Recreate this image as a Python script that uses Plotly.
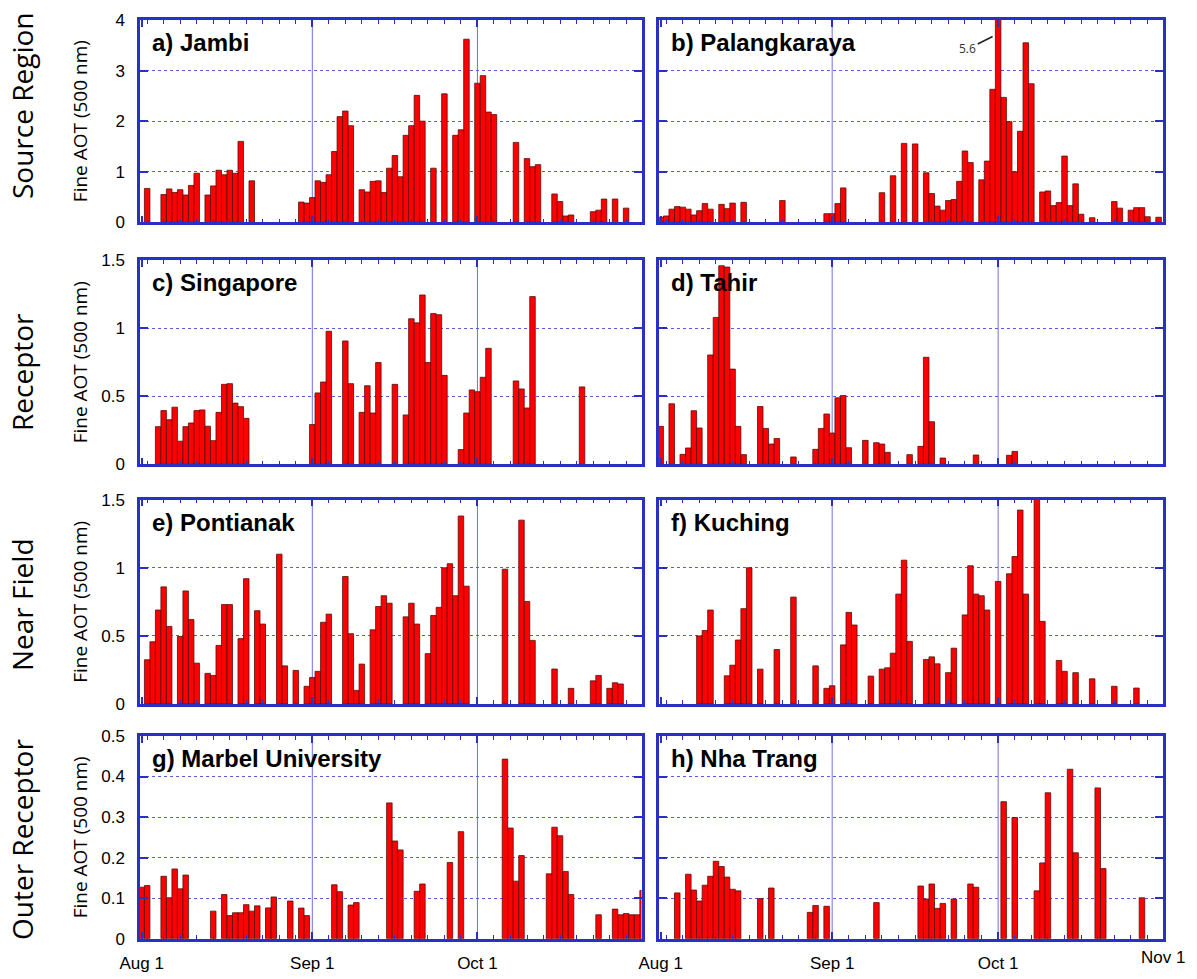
import plotly.graph_objects as go

# ---------------------------------------------------------------------------
# Daily fine-mode AOT (500 nm), Aug-Oct. Days are counted from Aug 1
# (0 = Aug 1, 31 = Sep 1, 61 = Oct 1).
# ---------------------------------------------------------------------------
jambi_days = [1, 4, 5, 6, 7, 8, 9, 10, 12, 13, 14, 15, 16, 17, 18, 20,
              29, 30, 31, 32, 33, 34, 35, 36, 37, 38, 40, 41, 42, 43, 44, 45,
              46, 47, 48, 49, 50, 51, 53, 55, 57, 58, 59, 61, 62, 63, 64, 68,
              70, 71, 72, 75, 76, 77, 78, 82, 83, 84, 86, 88]
jambi_aot = [0.67, 0.55, 0.66, 0.59, 0.645, 0.54, 0.73, 0.97, 0.54, 0.72, 1.03, 0.94, 1.03, 0.97, 1.6, 0.82,
             0.4, 0.38, 0.49, 0.82, 0.79, 0.94, 1.4, 2.09, 2.2, 1.91, 0.645, 0.6, 0.81, 0.82, 0.59, 1.07,
             1.32, 0.9, 1.72, 1.91, 2.51, 2.0, 1.07, 2.54, 1.72, 1.83, 3.62, 2.75, 2.9, 2.18, 2.13, 1.58,
             1.26, 1.1, 1.14, 0.56, 0.41, 0.125, 0.145, 0.21, 0.24, 0.46, 0.46, 0.28]

palangkaraya_days = [0, 1, 2, 3, 4, 5, 6, 7, 8, 9, 11, 12, 13, 15, 22, 30,
                     31, 32, 33, 40, 42, 44, 46, 48, 49, 50, 51, 52, 53, 54, 55, 56,
                     58, 59, 60, 61, 62, 63, 64, 65, 66, 67, 69, 70, 71, 72, 73, 74,
                     75, 76, 78, 82, 83, 85, 86, 87, 88, 90]
palangkaraya_aot = [0.1, 0.125, 0.26, 0.31, 0.3, 0.26, 0.145, 0.23, 0.37, 0.26, 0.355, 0.27, 0.38, 0.395, 0.43, 0.17,
                    0.17, 0.37, 0.68, 0.585, 0.92, 1.56, 1.55, 0.98, 0.57, 0.32, 0.24, 0.43, 0.45, 0.81, 1.41, 1.18,
                    0.84, 1.21, 2.63, 5.6, 2.47, 1.99, 1.0, 1.8, 3.55, 2.74, 0.6, 0.62, 0.33, 0.39, 1.31, 0.33,
                    0.76, 0.16, 0.09, 0.41, 0.28, 0.24, 0.29, 0.29, 0.11, 0.1]

singapore_days = [3, 4, 5, 6, 7, 8, 9, 10, 11, 12, 13, 14, 15, 16, 17, 18,
                  19, 31, 32, 33, 34, 37, 38, 40, 41, 42, 43, 46, 48, 49, 50, 51,
                  52, 53, 54, 55, 58, 59, 60, 61, 62, 63, 68, 69, 70, 71, 80]
singapore_aot = [0.277, 0.395, 0.328, 0.42, 0.17, 0.277, 0.304, 0.395, 0.40, 0.28, 0.174, 0.382, 0.588, 0.593, 0.45, 0.424,
                 0.338, 0.292, 0.525, 0.605, 0.978, 0.907, 0.593, 0.382, 0.578, 0.377, 0.748, 0.588, 0.363, 1.07, 1.04, 1.245,
                 0.748, 1.108, 1.10, 0.654, 0.108, 0.377, 0.547, 0.534, 0.64, 0.853, 0.613, 0.554, 0.414, 1.233, 0.569]

tahir_days = [0, 2, 4, 5, 6, 7, 9, 10, 11, 12, 13, 14, 15, 18, 19, 20,
              21, 24, 28, 29, 30, 31, 32, 33, 34, 37, 39, 40, 41, 45, 47, 48,
              49, 51, 57, 63, 64]
tahir_aot = [0.279, 0.445, 0.073, 0.12, 0.394, 0.267, 0.804, 1.08, 1.46, 1.45, 0.70, 0.279, 0.071, 0.425, 0.264, 0.149,
             0.19, 0.054, 0.11, 0.264, 0.37, 0.23, 0.489, 0.506, 0.122, 0.176, 0.159, 0.149, 0.088, 0.071, 0.132, 0.787,
             0.313, 0.046, 0.068, 0.066, 0.095]

pontianak_days = [1, 2, 3, 4, 5, 7, 8, 9, 10, 12, 13, 14, 15, 16, 18, 19,
                  21, 22, 25, 26, 28, 30, 31, 32, 33, 34, 37, 38, 39, 40, 42, 43,
                  44, 45, 48, 49, 50, 52, 53, 54, 55, 56, 57, 58, 59, 66, 69, 70,
                  71, 75, 78, 82, 83, 85, 86, 87]
pontianak_aot = [0.325, 0.457, 0.69, 0.86, 0.57, 0.496, 0.83, 0.62, 0.30, 0.225, 0.21, 0.43, 0.73, 0.73, 0.48, 0.92,
                 0.685, 0.587, 1.10, 0.28, 0.247, 0.13, 0.195, 0.24, 0.60, 0.66, 0.936, 0.516, 0.10, 0.293, 0.545, 0.716,
                 0.795, 0.74, 0.64, 0.74, 0.587, 0.37, 0.65, 0.71, 1.00, 1.03, 0.795, 1.38, 0.865, 0.99, 1.35, 0.753,
                 0.467, 0.257, 0.115, 0.17, 0.21, 0.115, 0.156, 0.147]

kuching_days = [7, 8, 9, 12, 13, 14, 15, 16, 18, 21, 24, 28, 30, 31, 33, 34,
                35, 38, 40, 41, 42, 43, 44, 45, 48, 49, 50, 52, 53, 55, 56, 57,
                58, 59, 61, 63, 64, 65, 66, 68, 69, 72, 73, 75, 78, 82, 86]
kuching_aot = [0.50, 0.54, 0.69, 0.207, 0.285, 0.47, 0.70, 1.00, 0.256, 0.40, 0.785, 0.28, 0.115, 0.134, 0.434, 0.673,
               0.58, 0.205, 0.256, 0.266, 0.373, 0.807, 1.056, 0.46, 0.327, 0.346, 0.295, 0.23, 0.41, 0.654, 1.015, 0.807,
               0.795, 0.69, 0.90, 0.956, 1.083, 1.424, 0.807, 1.55, 0.607, 0.32, 0.24, 0.23, 0.185, 0.13, 0.117]

marbel_days = [0, 1, 4, 5, 6, 7, 8, 13, 15, 16, 17, 18, 19, 20, 21, 23,
               24, 27, 29, 30, 35, 36, 38, 39, 45, 46, 47, 50, 51, 56, 58, 66,
               67, 68, 69, 74, 75, 76, 77, 78, 83, 86, 87, 88, 89, 90, 91]
marbel_aot = [0.127, 0.131, 0.154, 0.101, 0.172, 0.123, 0.157, 0.068, 0.109, 0.057, 0.064, 0.064, 0.084, 0.068, 0.081, 0.076,
              0.103, 0.093, 0.0755, 0.057, 0.133, 0.116, 0.083, 0.089, 0.335, 0.241, 0.219, 0.117, 0.135, 0.188, 0.264, 0.443,
              0.273, 0.142, 0.205, 0.16, 0.275, 0.254, 0.166, 0.109, 0.059, 0.073, 0.059, 0.062, 0.059, 0.059, 0.119]

nhatrang_days = [3, 5, 6, 7, 8, 9, 10, 11, 12, 13, 14, 18, 20, 27, 28, 30,
                 39, 47, 48, 49, 50, 51, 53, 56, 57, 62, 64, 68, 69, 70, 74, 75,
                 79, 80, 87]
nhatrang_aot = [0.113, 0.159, 0.12, 0.093, 0.132, 0.154, 0.191, 0.178, 0.152, 0.122, 0.118, 0.099, 0.125, 0.065, 0.082, 0.080,
                0.089, 0.13, 0.098, 0.135, 0.075, 0.087, 0.098, 0.135, 0.127, 0.338, 0.299, 0.118, 0.187, 0.36, 0.418, 0.212,
                0.372, 0.173, 0.101]

panel_titles = ["a) Jambi", "b) Palangkaraya", "c) Singapore", "d) Tahir",
                "e) Pontianak", "f) Kuching", "g) Marbel University", "h) Nha Trang"]
row_titles = ["Source Region", "Receptor", "Near Field", "Outer Receptor"]
row_ymax = [4, 1.5, 1.5, 0.5]
row_dtick = [1, 0.5, 0.5, 0.1]

month_days = [0, 31, 61]
month_labels = ["Aug 1", "Sep 1", "Oct 1"]
end_label = "Nov 1"
y_title = "Fine AOT (500 nm)"

series = [(jambi_days, jambi_aot), (palangkaraya_days, palangkaraya_aot),
          (singapore_days, singapore_aot), (tahir_days, tahir_aot),
          (pontianak_days, pontianak_aot), (kuching_days, kuching_aot),
          (marbel_days, marbel_aot), (nhatrang_days, nhatrang_aot)]

# ---------------------------------------------------------------------------
# Styling / layout geometry
# ---------------------------------------------------------------------------
W, H = 1197, 979
FRAME = "#2a30c4"
MONTH_LINE = "#6f6fe6"
GRID = "#5a5ae0"
BAR_FILL = "#ff0000"
BAR_EDGE = "#5a0c0c"
TICK_FONT = dict(family="Liberation Sans, Arial", size=17, color="black")
X_RANGE = [-0.3, 90.8]

col_px = [(140, 641.5), (659, 1163)]
row_px = [(20, 222.3), (260.3, 464.3), (499.7, 704), (736, 938.7)]
row_label_y = [106, 372, 605, 840]


def xdom(c):
    a, b = col_px[c]
    return [a / W, b / W]


def ydom(r):
    top, bottom = row_px[r]
    return [1 - bottom / H, 1 - top / H]


fig = go.Figure()
layout = dict(
    width=W, height=H,
    margin=dict(l=0, r=0, t=0, b=0, autoexpand=False),
    paper_bgcolor="white", plot_bgcolor="white",
    showlegend=False,
    annotations=[], shapes=[],
)

for i, (days, vals) in enumerate(series):
    assert len(days) == len(vals)
    r, c = divmod(i, 2)
    n = "" if i == 0 else str(i + 1)
    xa, ya = "x" + n, "y" + n

    fig.add_trace(go.Bar(
        x=days, y=vals, width=1, xaxis=xa, yaxis=ya,
        marker=dict(color=BAR_FILL, line=dict(color=BAR_EDGE, width=0.8)),
        hovertemplate="day %{x}: %{y}<extra></extra>",
    ))

    bottom = r == 3
    layout["xaxis" + n] = dict(
        domain=xdom(c), range=X_RANGE, anchor=ya, automargin=False,
        showline=True, mirror="ticks", linecolor=FRAME, linewidth=2.5,
        tickmode="array", tickvals=month_days, ticktext=month_labels,
        ticks="inside", ticklen=7, tickwidth=1.5, tickcolor=FRAME,
        minor=dict(tickmode="linear", tick0=1, dtick=3, ticks="inside",
                   ticklen=4, tickwidth=1.2, tickcolor=FRAME, showgrid=False),
        showgrid=False, zeroline=False,
        showticklabels=bottom, tickfont=TICK_FONT, ticklabelstandoff=7,
    )
    layout["yaxis" + n] = dict(
        domain=ydom(r), range=[0, row_ymax[r]], anchor=xa, automargin=False,
        showline=True, mirror="ticks", linecolor=FRAME, linewidth=2.5,
        tick0=0, dtick=row_dtick[r],
        ticks="inside", ticklen=8, tickwidth=2, tickcolor=FRAME,
        showgrid=True, gridcolor=GRID, gridwidth=1, griddash="dot",
        zeroline=False,
        showticklabels=(c == 0), tickfont=TICK_FONT, ticklabelstandoff=9,
    )

    # month boundary lines (Sep 1, Oct 1)
    for d in month_days[1:]:
        layout["shapes"].append(dict(
            type="line", xref=xa, yref=ya + " domain", x0=d, x1=d, y0=0, y1=1,
            line=dict(color=MONTH_LINE, width=1), layer="below",
        ))

    # panel title
    pw = col_px[c][1] - col_px[c][0]
    ph = row_px[r][1] - row_px[r][0]
    layout["annotations"].append(dict(
        xref=xa + " domain", yref=ya + " domain",
        x=10 / pw, y=1 - 7 / ph, xanchor="left", yanchor="top",
        text="<b>" + panel_titles[i] + "</b>", showarrow=False,
        font=dict(family="Liberation Sans, Arial", size=24, color="black"),
    ))

# row labels and y-axis titles
for r in range(4):
    yc = 1 - row_label_y[r] / H
    layout["annotations"].append(dict(
        xref="paper", yref="paper", x=22 / W, y=yc, textangle=-90,
        xanchor="center", yanchor="middle", showarrow=False,
        text=row_titles[r], font=dict(family="Open Sans", size=28, color="black"),
    ))
    ymid = 1 - (row_px[r][0] + row_px[r][1]) / 2 / H
    layout["annotations"].append(dict(
        xref="paper", yref="paper", x=80 / W, y=ymid, textangle=-90,
        xanchor="center", yanchor="middle", showarrow=False,
        text=y_title, font=dict(family="Open Sans", size=19, color="black"),
    ))

# closing date label at the right end of the last panel
layout["annotations"].append(dict(
    xref="x8", yref="paper", x=X_RANGE[1], y=ydom(3)[0],
    xanchor="center", yanchor="top", yshift=-7, showarrow=False,
    text=end_label, font=TICK_FONT,
))

# callout for the off-scale Palangkaraya peak
peak = max(palangkaraya_aot)
peak_day = palangkaraya_days[palangkaraya_aot.index(peak)]
ytop = row_ymax[0]
layout["annotations"].append(dict(
    xref="x2", yref="y2", axref="x2", ayref="y2",
    x=peak_day - 1.0, y=ytop * 0.918, ax=peak_day - 5.5, ay=ytop * 0.857,
    text=f"{peak:.1f}", showarrow=True, arrowhead=0, arrowwidth=1.6,
    arrowcolor="#222222", standoff=0,
    font=dict(family="Open Sans", size=12, color="#333333"),
))

fig.update_layout(**layout)
fig.write_html("out.html")
